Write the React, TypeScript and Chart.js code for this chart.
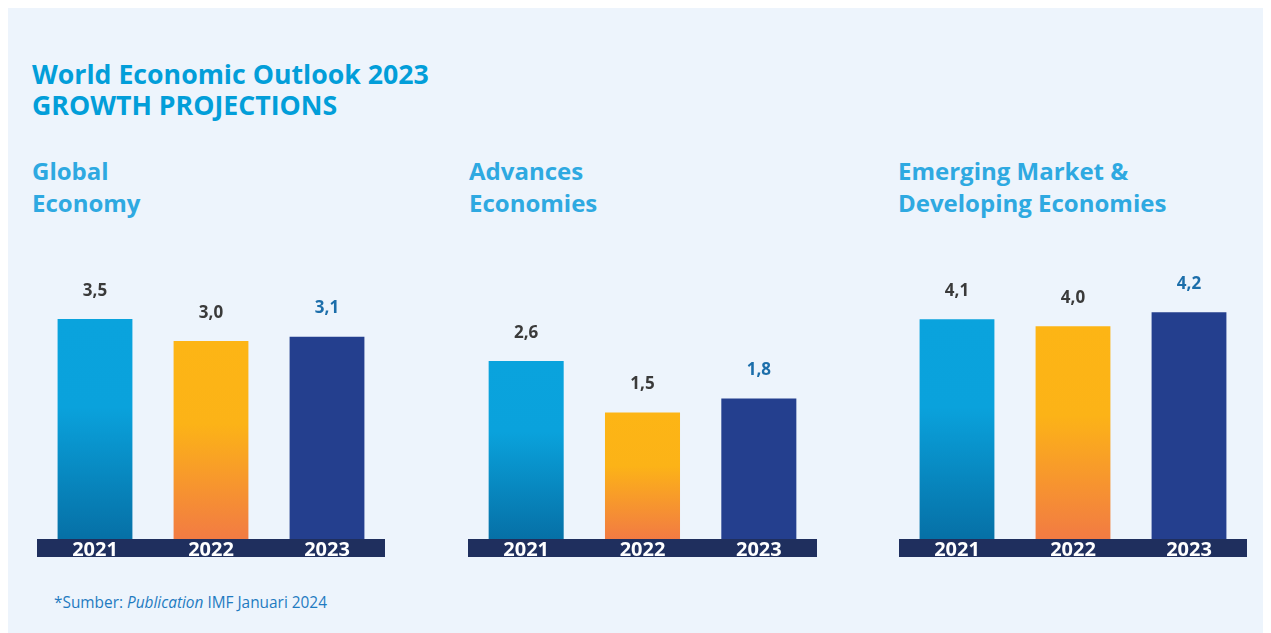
import React, { useEffect, useRef } from "react";
import { Chart, registerables } from "chart.js";

Chart.register(...registerables);

const years = ["2021", "2022", "2023"];
const globalValues = [3.5, 3.0, 3.1];
const advancedValues = [2.6, 1.5, 1.8];
const emergingValues = [4.1, 4.0, 4.2];

const FONT = "'Open Sans', 'Noto Sans', sans-serif";
const BG = "#EDF4FC";

const fmt = (v: number) => v.toFixed(1).replace(".", ",");

const bandPlugin = {
  id: "band",
  beforeDraw(chart: any) {
    const s = chart.scales.x;
    const ctx = chart.ctx;
    ctx.save();
    ctx.fillStyle = "#1F2F5E";
    ctx.fillRect(s.left, s.top, s.right - s.left, s.bottom - s.top);
    ctx.restore();
  },
};

const valueLabelPlugin = {
  id: "valueLabels",
  afterDatasetsDraw(chart: any) {
    const ctx = chart.ctx;
    const meta = chart.getDatasetMeta(0);
    const data = chart.data.datasets[0].data as number[];
    ctx.save();
    ctx.textAlign = "center";
    ctx.textBaseline = "middle";
    meta.data.forEach((bar: any, i: number) => {
      const last = i === data.length - 1;
      ctx.fillStyle = last ? "#1C6EAA" : "#3A3A3A";
      ctx.font = `700 17px ${FONT}`;
      ctx.fillText(fmt(data[i]), bar.x, bar.y - 28);
    });
    ctx.restore();
  },
};

function barColor(context: any) {
  const chart = context.chart;
  const i = context.dataIndex;
  if (i === 2) return "#243F8E";
  const area = chart.chartArea;
  const yScale = chart.scales.y;
  if (!area || !yScale) return i === 0 ? "#0AA3DD" : "#FDB515";
  const v = context.dataset.data[i];
  const top = yScale.getPixelForValue(v);
  const bottom = area.bottom;
  const g = chart.ctx.createLinearGradient(0, top, 0, bottom);
  if (i === 0) {
    g.addColorStop(0, "#0AA3DD");
    g.addColorStop(0.4, "#0AA2DC");
    g.addColorStop(1, "#0670A6");
  } else {
    g.addColorStop(0, "#FDB515");
    g.addColorStop(0.42, "#FCB317");
    g.addColorStop(1, "#F27B43");
  }
  return g;
}

function MiniChart({ values, min, max }: { values: number[]; min: number; max: number }) {
  const ref = useRef<HTMLCanvasElement>(null);
  useEffect(() => {
    if (!ref.current) return;
    const chart = new Chart(ref.current, {
      type: "bar",
      data: {
        labels: years,
        datasets: [
          {
            data: values,
            base: min,
            backgroundColor: barColor as any,
            borderWidth: 0,
            barPercentage: 0.645,
            categoryPercentage: 1,
          } as any,
        ],
      },
      options: {
        animation: false,
        responsive: true,
        maintainAspectRatio: false,
        layout: { padding: 0 },
        plugins: { legend: { display: false }, tooltip: { enabled: false } },
        scales: {
          y: { display: false, min, max },
          x: {
            grid: { display: false, drawTicks: false },
            border: { display: false },
            afterFit: (s: any) => {
              s.height = 18;
            },
            ticks: {
              color: "#FFFFFF",
              padding: -1,
              font: { family: FONT, size: 20, weight: "bold" as any },
            },
          },
        },
      },
      plugins: [bandPlugin, valueLabelPlugin],
    });
    return () => chart.destroy();
  }, []);
  return <canvas ref={ref} />;
}

const subtitleStyle: React.CSSProperties = {
  position: "absolute",
  top: 147,
  fontFamily: FONT,
  fontWeight: 700,
  fontSize: 24,
  lineHeight: "32px",
  color: "#2EA9E1",
  margin: 0,
};

const chartBox = (left: number, width: number): React.CSSProperties => ({
  position: "absolute",
  left,
  top: 242,
  width,
  height: 307,
});

export default function App() {
  return (
    <div style={{ position: "relative", width: 1263, height: 625, background: BG, overflow: "hidden" }}>
      <div
        style={{
          position: "absolute",
          left: 24,
          top: 50,
          fontFamily: FONT,
          fontWeight: 700,
          fontSize: 26.7,
          lineHeight: "31px",
          color: "#029ED9",
        }}
      >
        World Economic Outlook 2023
        <br />
        GROWTH PROJECTIONS
      </div>
      <div style={{ ...subtitleStyle, left: 24 }}>
        Global
        <br />
        Economy
      </div>
      <div style={{ ...subtitleStyle, left: 461 }}>
        Advances
        <br />
        Economies
      </div>
      <div style={{ ...subtitleStyle, left: 890 }}>
        Emerging Market &amp;
        <br />
        Developing Economies
      </div>
      <div style={chartBox(29, 348)}>
        <MiniChart values={globalValues} min={-1.5} max={5.07} />
      </div>
      <div style={chartBox(460, 349)}>
        <MiniChart values={advancedValues} min={-1.19} max={4.96} />
      </div>
      <div style={chartBox(891, 348)}>
        <MiniChart values={emergingValues} min={0.957} max={5.09} />
      </div>
      <div
        style={{
          position: "absolute",
          left: 46,
          top: 585,
          fontFamily: FONT,
          fontSize: 15.4,
          lineHeight: "20px",
          color: "#1F7BC1",
        }}
      >
        *Sumber: <i>Publication</i> IMF Januari 2024
      </div>
    </div>
  );
}
